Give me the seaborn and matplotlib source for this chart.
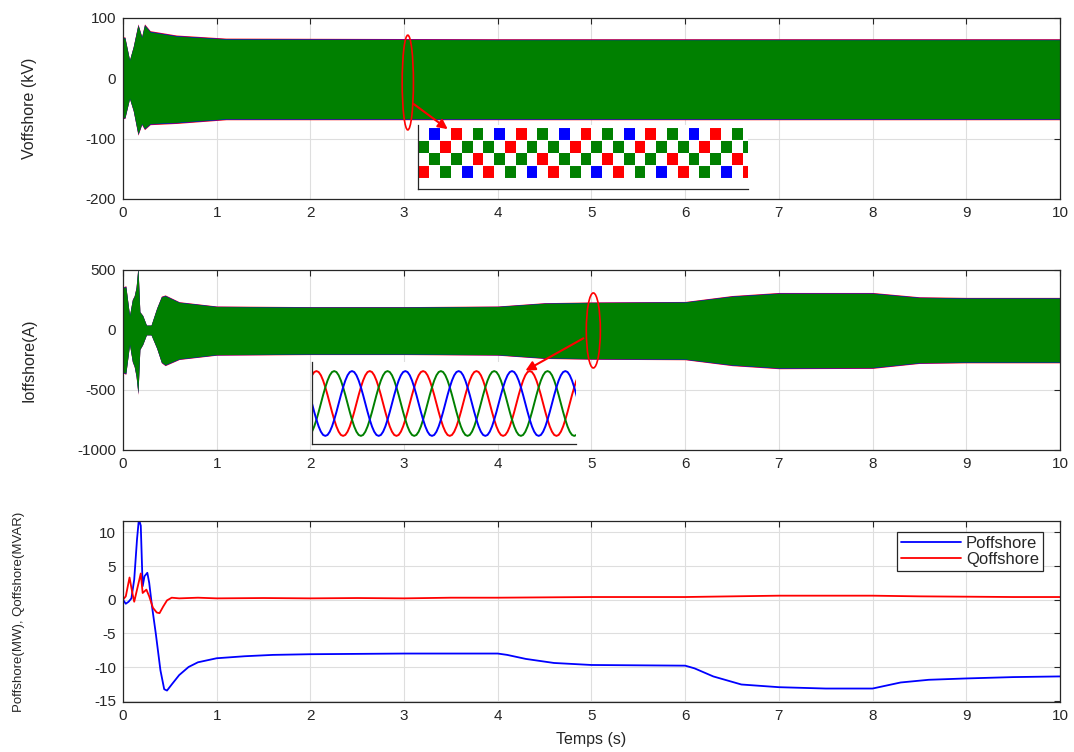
import numpy as np
import seaborn as sns
import matplotlib.pyplot as plt
from matplotlib.patches import Ellipse, FancyArrowPatch

# envelope of the offshore voltage band (kV)
v_time = [0, 0.02, 0.07, 0.11, 0.16, 0.20, 0.23, 0.29, 0.57, 1.1, 4.0, 7.0, 10]
v_top = [67, 67, 30, 52, 88, 68, 88, 77, 70, 65, 64, 64, 64]
v_bot = [-65, -65, -33, -53, -92, -75, -83, -75, -73, -67, -67, -67, -67]

# envelope of the offshore current band (A)
i_time = [0, 0.03, 0.07, 0.10, 0.12, 0.14, 0.16, 0.18, 0.21, 0.25, 0.30, 0.36,
          0.41, 0.45, 0.6, 1.0, 2.0, 3.0, 4.0, 4.5, 5.0, 6.0, 6.5, 7.0, 8.0,
          8.5, 9.0, 10]
i_top = [350, 360, 120, 250, 280, 350, 520, 150, 120, 40, 40, 180,
         275, 285, 230, 195, 190, 190, 195, 222, 228, 232, 280, 305, 305,
         270, 265, 265]
i_bot = [-350, -360, -120, -260, -300, -380, -525, -160, -120, -40, -40, -150,
         -267, -290, -240, -205, -200, -200, -205, -232, -238, -242, -290, -315, -312,
         -272, -267, -267]

# active / reactive power
p_time = [0, 0.03, 0.06, 0.09, 0.12, 0.15, 0.17, 0.19, 0.21, 0.23, 0.26, 0.28,
          0.31, 0.35, 0.40, 0.44, 0.47, 0.52, 0.6, 0.7, 0.8, 1.0, 1.3, 1.6, 2.0,
          3.0, 4.0, 4.1, 4.3, 4.6, 5.0, 6.0, 6.1, 6.3, 6.6, 7.0, 7.5, 8.0, 8.1,
          8.3, 8.6, 9.0, 9.5, 10]
p_values = [0, -0.6, -0.3, 0.2, 3, 9, 12, 11, 2, 3.5, 4, 2.5,
            -1, -5, -10.5, -13.3, -13.5, -12.6, -11.2, -10, -9.3, -8.7, -8.4, -8.2, -8.1,
            -8.0, -8.0, -8.2, -8.8, -9.4, -9.7, -9.8, -10.2, -11.4, -12.6, -13.0, -13.2, -13.2, -12.9,
            -12.3, -11.9, -11.7, -11.5, -11.4]
q_time = [0, 0.03, 0.07, 0.10, 0.12, 0.15, 0.19, 0.21, 0.25, 0.28, 0.32, 0.36,
          0.39, 0.43, 0.47, 0.52, 0.6, 0.8, 1.0, 1.5, 2, 2.5, 3, 3.5, 4, 4.5, 5,
          5.5, 6, 6.5, 7, 7.5, 8, 8.5, 9, 9.5, 10]
q_values = [0, 0.5, 3.3, 1.0, -0.3, 1.5, 3.9, 1.0, 1.5, 0.5, -1.2, -1.9,
            -2.0, -1.0, -0.1, 0.3, 0.2, 0.3, 0.2, 0.25, 0.2, 0.25, 0.2, 0.3, 0.3, 0.35, 0.4,
            0.4, 0.4, 0.5, 0.6, 0.6, 0.6, 0.5, 0.45, 0.4, 0.4]

# zoomed waveforms: stepped voltage levels and one cycle of current (per unit)
v_steps = [1.5, 0.5, -0.5, -1.5, -0.5, 0.5]
i_cycle = [1, 0.97, 0.87, 0.71, 0.5, 0.26, 0, -0.26, -0.5, -0.71, -0.87, -0.97,
           -1, -0.97, -0.87, -0.71, -0.5, -0.26, 0, 0.26, 0.5, 0.71, 0.87, 0.97]

GREEN = '#008000'
DARK = '#262626'

sns.set_style('whitegrid')
plt.rcParams['font.family'] = ['Liberation Sans', 'DejaVu Sans']
plt.rcParams['axes.unicode_minus'] = False

fig = plt.figure(figsize=(10.74, 7.52), dpi=100)
ax1 = fig.add_axes([0.1145, 0.7354, 0.8724, 0.2407])
ax2 = fig.add_axes([0.1145, 0.4016, 0.8724, 0.2394])
ax3 = fig.add_axes([0.1145, 0.0665, 0.8724, 0.2407])


def matlab_axes(ax):
    ax.set_xlim(0, 10)
    ax.set_xticks(range(11))
    ax.grid(True, color='#dedede', lw=0.8)
    ax.tick_params(direction='in', top=True, right=True, length=4, width=0.8,
                   labelsize=11, colors=DARK, pad=5)
    for s in ax.spines.values():
        s.set_color(DARK)
        s.set_linewidth(0.9)


def band(ax, t, top, bot):
    ax.fill_between(t, [x * 1.025 for x in top], [x * 1.025 for x in bot],
                    color='red', lw=0, zorder=2)
    ax.fill_between(t, [x * 1.012 for x in top], [x * 1.012 for x in bot],
                    color='blue', lw=0, zorder=2)
    ax.fill_between(t, top, bot, color=GREEN, lw=0, zorder=2)


# voltage panel
band(ax1, v_time, v_top, v_bot)
matlab_axes(ax1)
ax1.set_ylim(-200, 100)
ax1.set_yticks([-200, -100, 0, 100])
ax1.set_ylabel('Voffshore (kV)', fontsize=11.5, color=DARK)
ax1.yaxis.set_label_coords(-0.092, 0.5)
ax1.add_patch(Ellipse((3.04, -7), 0.12, 157, fill=False, ec='red', lw=1.2, zorder=4))

# current panel
band(ax2, i_time, i_top, i_bot)
matlab_axes(ax2)
ax2.set_ylim(-1000, 500)
ax2.set_yticks([-1000, -500, 0, 500])
ax2.set_ylabel('Ioffshore(A)', fontsize=11.5, color=DARK)
ax2.yaxis.set_label_coords(-0.092, 0.5)
ax2.add_patch(Ellipse((5.02, -4), 0.15, 625, fill=False, ec='red', lw=1.2, zorder=4))

# power panel
sns.lineplot(x=p_time, y=p_values, ax=ax3, color='blue', lw=1.3, label='Poffshore')
sns.lineplot(x=q_time, y=q_values, ax=ax3, color='red', lw=1.3, label='Qoffshore')
matlab_axes(ax3)
ax3.set_ylim(-15.2, 11.7)
ax3.set_yticks([-15, -10, -5, 0, 5, 10])
ax3.set_ylabel('Poffshore(MW), Qoffshore(MVAR)', fontsize=9.5, color=DARK)
ax3.yaxis.set_label_coords(-0.105, 0.5)
ax3.set_xlabel('Temps (s)', fontsize=11.5, color=DARK)
ax3.xaxis.set_label_coords(0.5, -0.165)
leg = ax3.legend(loc='upper right', bbox_to_anchor=(0.982, 0.939), borderaxespad=0,
                 fontsize=12, handlelength=3.6, fancybox=False, framealpha=1,
                 edgecolor=DARK, borderpad=0.25, labelspacing=0.05, handletextpad=0.3)
leg.get_frame().set_linewidth(0.9)

# zoomed voltage inset
axv = fig.add_axes([418 / 1074, 1 - 189 / 752, 330 / 1074, 64 / 752])
axv.set_facecolor('white')
for off, col in [(0, 'blue'), (2, 'red'), (4, GREEN)]:
    ks = np.arange(-2, 31)
    levels = [v_steps[(k - off) % 6] for k in ks]
    axv.hlines(levels, ks, ks + 1, colors=col, lw=8.6, capstyle='butt')
axv.set_xlim(-1.06, 29.5)
axv.set_ylim(-2.84, 2.2)

# zoomed current inset
axi = fig.add_axes([312 / 1074, 1 - 444 / 752, 264 / 1074, 82 / 752])
axi.set_facecolor('white')
n = 5 * len(i_cycle) + 1
x_per = np.arange(n) / len(i_cycle)
for shift, col in [(2, 'red'), (10, GREEN), (18, 'blue')]:
    wave = np.tile(np.roll(i_cycle, shift), 6)[:n]
    sns.lineplot(x=x_per, y=wave, ax=axi, color=col, lw=1.4)
axi.set_xlim(0, 4.95)
axi.set_ylim(-1.25, 1.28)

for ax, ticks in [(axv, [6.3, 12.1, 18.2, 24.2]), (axi, [1.8, 3.6])]:
    ax.grid(False)
    ax.set_xticks(ticks)
    ax.set_yticks([])
    ax.tick_params(direction='in', length=3, width=0.8, labelbottom=False,
                   labelleft=False, colors=DARK)
    for s in ['top', 'right']:
        ax.spines[s].set_visible(False)
    for s in ['left', 'bottom']:
        ax.spines[s].set_color(DARK)
        ax.spines[s].set_linewidth(0.9)

# arrows from the ellipses to the zoomed views
fig.add_artist(FancyArrowPatch((3.08, -40), (3.49, -87), transform=ax1.transData,
                               arrowstyle='-|>', mutation_scale=14, color='red', lw=1.5))
fig.add_artist(FancyArrowPatch((4.94, -58), (4.27, -350), transform=ax2.transData,
                               arrowstyle='-|>', mutation_scale=14, color='red', lw=1.5))

fig.savefig('out.png', dpi=100)
